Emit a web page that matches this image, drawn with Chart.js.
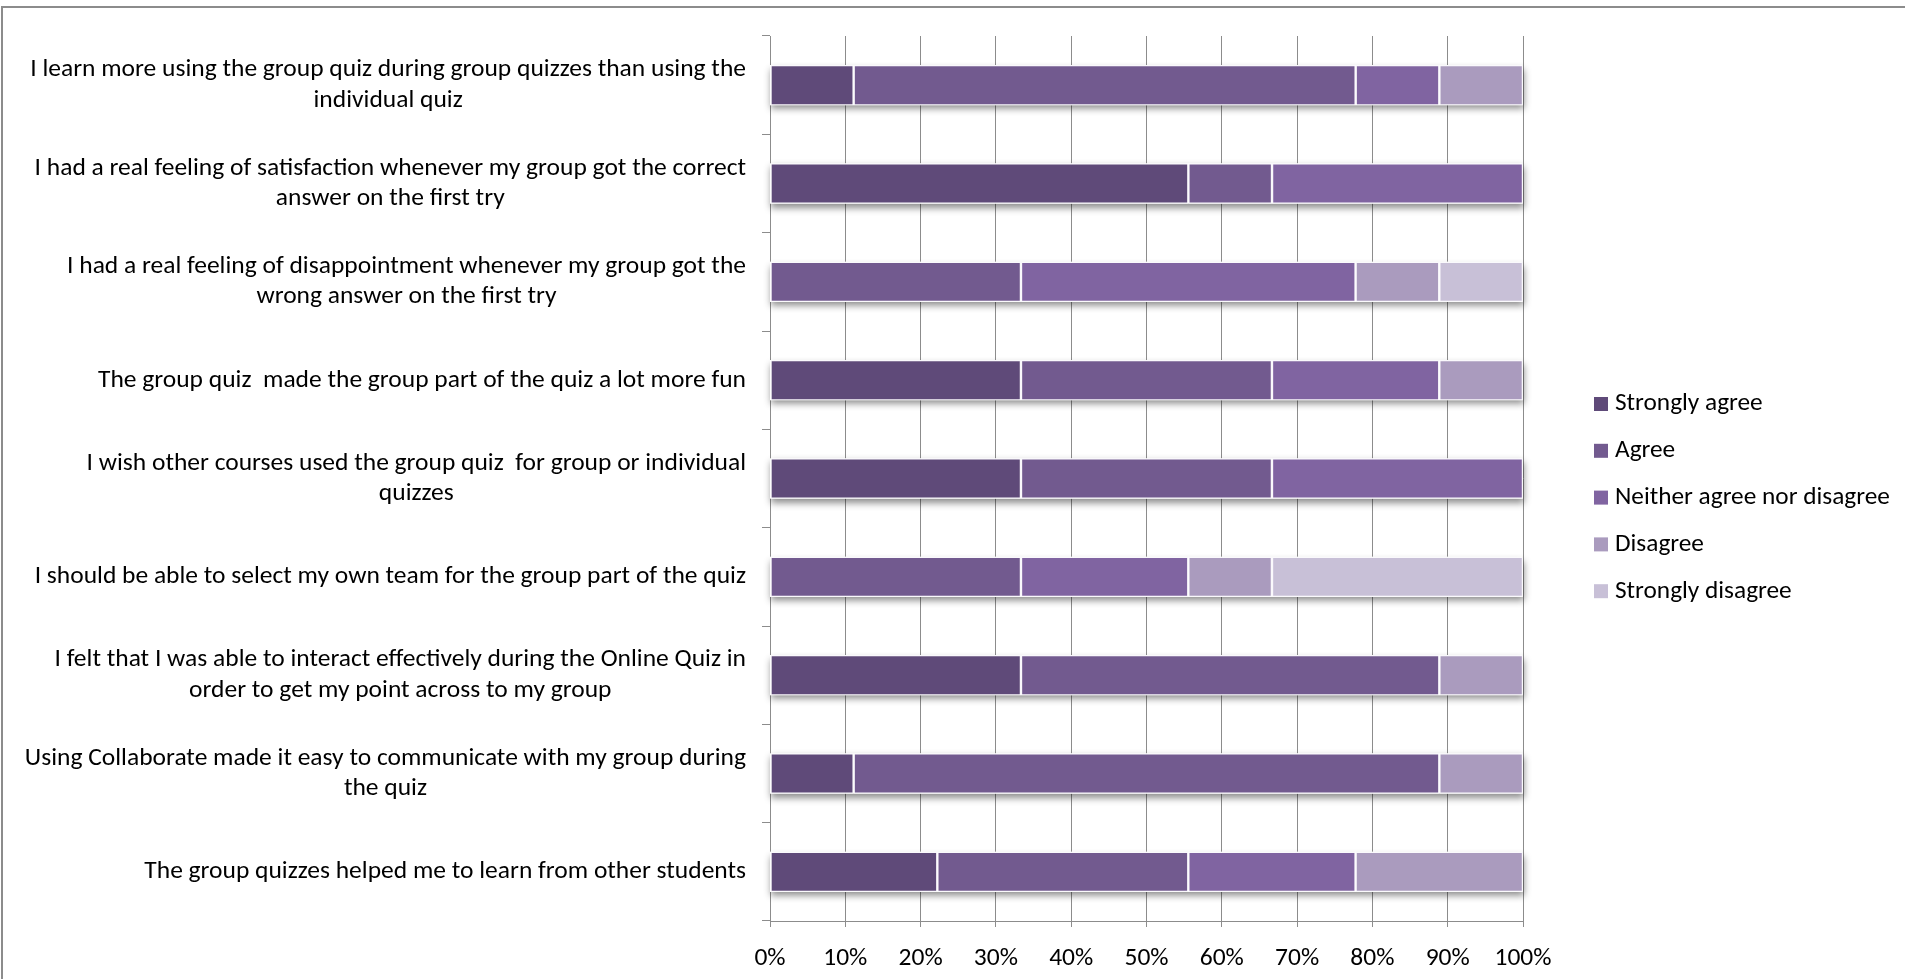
<!DOCTYPE html>
<html>
<head>
<meta charset="utf-8">
<script src="https://cdn.jsdelivr.net/npm/chart.js@4/dist/chart.umd.min.js"></script>
<style>
  html, body { margin: 0; padding: 0; background: #fff; overflow: hidden; }
  #wrap { position: relative; width: 1905px; height: 979px; }
  #frame { position: absolute; left: 1px; top: 6px; right: -10px; bottom: -10px;
           border-top: 2px solid #8c8c8c; border-left: 2px solid #8c8c8c; pointer-events: none; }
  canvas { position: absolute; left: 0; top: 0; }
</style>
</head>
<body>
<div id="wrap">
  <canvas id="c" width="1905" height="979"></canvas>
  <div id="frame"></div>
</div>
<script>
// ---- data ----
const categories = [
  ["I learn more using the group quiz during group quizzes than using the", "individual quiz"],
  ["I had a real feeling of satisfaction whenever my group got the correct", "answer on the first try"],
  ["I had a real feeling of disappointment whenever my group got the", "wrong answer on the first try"],
  "The group quiz  made the group part of the quiz a lot more fun",
  ["I wish other courses used the group quiz  for group or individual", "quizzes"],
  "I should be able to select my own team for the group part of the quiz",
  ["I felt that I was able to interact effectively during the Online Quiz in", "order to get my point across to my group"],
  ["Using Collaborate made it easy to communicate with my group during", "the quiz"],
  "The group quizzes helped me to learn from other students"
];
const seriesNames = ["Strongly agree", "Agree", "Neither agree nor disagree", "Disagree", "Strongly disagree"];
const stronglyAgree = [11.11, 55.56, 0, 33.33, 33.33, 0, 33.33, 11.11, 22.22];
const agree         = [66.67, 11.11, 33.33, 33.33, 33.33, 33.33, 55.56, 77.78, 33.33];
const neither       = [11.11, 33.33, 44.44, 22.22, 33.34, 22.22, 0, 0, 22.22];
const disagree      = [11.11, 0, 11.11, 11.11, 0, 11.11, 11.11, 11.11, 22.23];
const stronglyDis   = [0, 0, 11.11, 0, 0, 33.34, 0, 0, 0];
const xTickValues   = [0, 10, 20, 30, 40, 50, 60, 70, 80, 90, 100];

// ---- style ----
const colors = ["#5f4a79", "#725a8f", "#8064a1", "#aa9bbe", "#c8c0d7"];
const FONT = "Carlito, Lato, sans-serif";
const FS = 25.5;
const gridColor = "#8c8c8c";

const seriesValues = [stronglyAgree, agree, neither, disagree, stronglyDis];

const shadowPlugin = {
  id: 'barShadow',
  beforeDatasetsDraw(chart) {
    const ctx = chart.ctx, xs = chart.scales.x;
    const meta0 = chart.getDatasetMeta(0);
    ctx.save();
    ctx.shadowColor = 'rgba(0,0,0,0.45)';
    ctx.shadowBlur = 7;
    ctx.shadowOffsetY = 4;
    ctx.shadowOffsetX = 1;
    ctx.fillStyle = '#ffffff';
    meta0.data.forEach((el, i) => {
      const p = el.getProps(['y', 'height'], true);
      let total = 0;
      chart.data.datasets.forEach(ds => total += ds.data[i]);
      const x0 = xs.getPixelForValue(0), x1 = xs.getPixelForValue(Math.min(total, 100));
      ctx.fillRect(x0, p.y - p.height / 2, x1 - x0, p.height);
    });
    ctx.restore();
  }
};

const yLabelPlugin = {
  id: 'yLabels',
  afterDraw(chart, args, opts) {
    const ctx = chart.ctx, ys = chart.scales.y;
    ctx.save();
    ctx.font = FS + 'px ' + FONT;
    ctx.fillStyle = '#000';
    ctx.textAlign = 'center';
    ctx.textBaseline = 'middle';
    const right = ys.right - opts.gap;
    chart.data.labels.forEach((lab, i) => {
      const lines = Array.isArray(lab) ? lab : [lab];
      const w = Math.max(...lines.map(l => ctx.measureText(l).width));
      const cx = right - w / 2;
      const yc = ys.getPixelForValue(i);
      lines.forEach((l, j) => ctx.fillText(l, cx, yc + (j - (lines.length - 1) / 2) * opts.lineHeight));
    });
    ctx.restore();
  }
};

const legendPlugin = {
  id: 'sideLegend',
  afterDraw(chart, args, opts) {
    const ctx = chart.ctx;
    ctx.save();
    ctx.font = opts.fontSize + 'px ' + FONT;
    ctx.textBaseline = 'middle';
    ctx.textAlign = 'left';
    chart.data.datasets.forEach((ds, i) => {
      const y = opts.y0 + i * opts.step;
      ctx.fillStyle = ds.backgroundColor;
      ctx.fillRect(opts.x, y - opts.box / 2, opts.box, opts.box);
      ctx.fillStyle = '#000';
      ctx.fillText(ds.label, opts.textX, y);
    });
    ctx.restore();
  }
};

const datasets = seriesNames.map((name, k) => ({
  label: name,
  data: seriesValues[k],
  backgroundColor: colors[k],
  borderColor: 'rgba(250,249,252,0.95)',
  borderWidth: c => (c.raw ? 1.2 : 0),
  borderSkipped: false,
  barPercentage: 0.41,
  categoryPercentage: 1.0
}));

new Chart(document.getElementById('c'), {
  type: 'bar',
  data: { labels: categories, datasets },
  options: {
    indexAxis: 'y',
    responsive: false,
    animation: false,
    layout: { padding: { left: 0, right: 382, top: 36, bottom: 0 } },
    plugins: {
      legend: { display: false },
      tooltip: { enabled: false },
      yLabels: { gap: 24, lineHeight: 30.5 },
      sideLegend: { x: 1594, textX: 1615, box: 14, y0: 404, step: 46.8, fontSize: 25.3 }
    },
    scales: {
      x: {
        stacked: true,
        min: 0, max: 100,
        afterBuildTicks: s => { s.ticks = xTickValues.map(v => ({ value: v })); },
        afterFit: s => { s.height = 58; },
        grid: { color: gridColor, lineWidth: 1, tickLength: 6, drawTicks: true },
        border: { color: gridColor, width: 1 },
        ticks: {
          callback: v => v + '%',
          color: '#000',
          font: { family: FONT, size: FS },
          padding: 16,
          maxRotation: 0
        }
      },
      y: {
        stacked: true,
        afterFit: s => { s.width = 770; },
        grid: { offset: true, drawOnChartArea: false, color: gridColor, tickLength: 8 },
        border: { color: gridColor, width: 1 },
        ticks: { display: false }
      }
    }
  },
  plugins: [shadowPlugin, yLabelPlugin, legendPlugin]
});
</script>
</body>
</html>
